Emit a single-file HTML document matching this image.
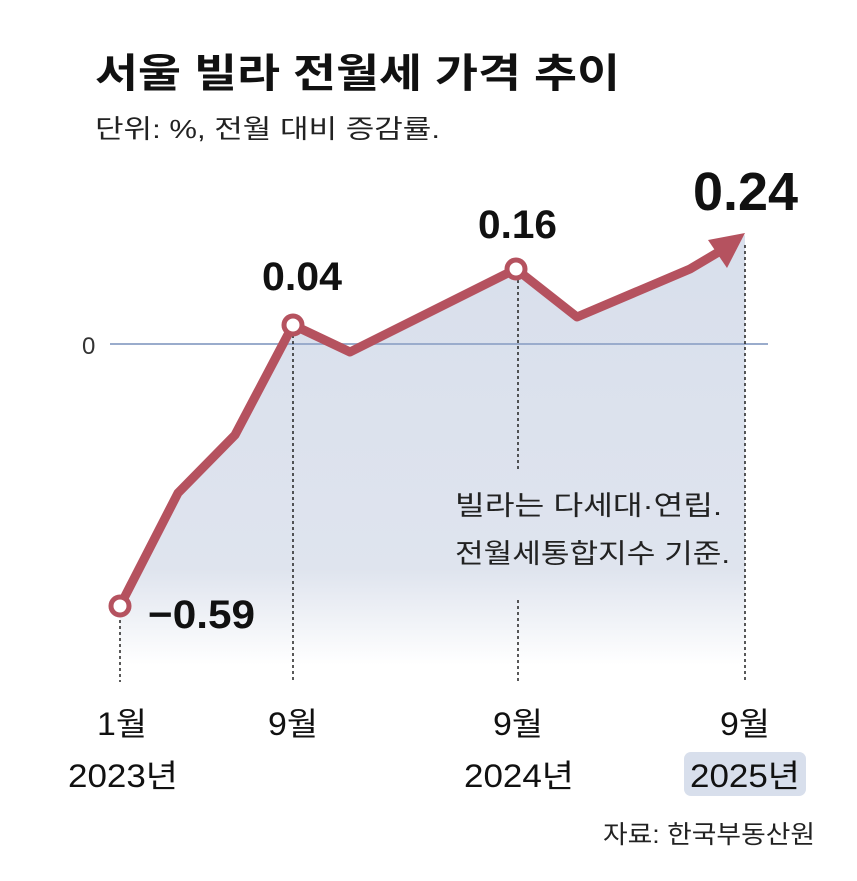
<!DOCTYPE html>
<html><head><meta charset="utf-8"><style>
html,body{margin:0;padding:0;background:#fff;}
svg{display:block;font-family:"Liberation Sans","Noto Sans CJK KR",sans-serif;}
</style></head><body>
<svg width="857" height="881" viewBox="0 0 857 881" xmlns="http://www.w3.org/2000/svg">
<defs>
<linearGradient id="fillg" gradientUnits="userSpaceOnUse" x1="0" y1="230" x2="0" y2="665">
<stop offset="0" stop-color="#d8dfec"/>
<stop offset="0.78" stop-color="#dfe4ee"/>
<stop offset="1" stop-color="#ffffff"/>
</linearGradient>
</defs>
<text x="95" y="87" font-size="40" font-weight="bold" fill="#111" textLength="525" lengthAdjust="spacingAndGlyphs">서울 빌라 전월세 가격 추이</text>
<text x="95" y="138" font-size="26" fill="#222" textLength="345" lengthAdjust="spacingAndGlyphs">단위: %, 전월 대비 증감률.</text>

<polygon points="120,606 178,493 235,435 293,325 350,352 516,269 577,317 690,269 745,235 745,665 120,665" fill="url(#fillg)"/>
<line x1="110" y1="344" x2="768" y2="344" stroke="#9aaccc" stroke-width="2"/>
<text x="82" y="354" font-size="24" fill="#333">0</text>

<g stroke="#222" stroke-width="1.5" stroke-dasharray="3,3">
<line x1="120" y1="620" x2="120" y2="682"/>
<line x1="293" y1="335" x2="293" y2="682"/>
<line x1="518" y1="280" x2="518" y2="472"/>
<line x1="518" y1="600" x2="518" y2="682"/>
<line x1="745" y1="245" x2="745" y2="682"/>
</g>

<polyline points="120,606 178,493 235,435 293,325 350,352 516,269 577,317 690,269 722,250" fill="none" stroke="#b5525f" stroke-width="9" stroke-linejoin="round" stroke-linecap="round"/>
<polygon points="745,233 708,240 727,268" fill="#b5525f"/>
<g fill="#fff" stroke="#b5525f" stroke-width="5">
<circle cx="120" cy="606" r="9"/>
<circle cx="293" cy="325" r="9"/>
<circle cx="516" cy="269" r="9"/>
</g>

<g font-weight="bold" fill="#111" lengthAdjust="spacingAndGlyphs">
<text x="148" y="628" font-size="40" textLength="107" lengthAdjust="spacingAndGlyphs">−0.59</text>
<text x="262" y="290" font-size="40" textLength="80" lengthAdjust="spacingAndGlyphs">0.04</text>
<text x="478" y="238" font-size="40" textLength="79" lengthAdjust="spacingAndGlyphs">0.16</text>
<text x="693" y="210" font-size="54" textLength="105" lengthAdjust="spacingAndGlyphs">0.24</text>
</g>

<text x="455" y="515" font-size="27" fill="#222" textLength="267" lengthAdjust="spacingAndGlyphs">빌라는 다세대·연립.</text>
<text x="455" y="563" font-size="27" fill="#222" textLength="275" lengthAdjust="spacingAndGlyphs">전월세통합지수 기준.</text>

<rect x="684" y="752" width="122" height="44" rx="7" fill="#d8dfec"/>
<g font-size="32" fill="#111">
<text x="97" y="735" textLength="50" lengthAdjust="spacingAndGlyphs">1월</text>
<text x="68" y="787" textLength="110" lengthAdjust="spacingAndGlyphs">2023년</text>
<text x="268" y="735" textLength="50" lengthAdjust="spacingAndGlyphs">9월</text>
<text x="493" y="735" textLength="50" lengthAdjust="spacingAndGlyphs">9월</text>
<text x="464" y="787" textLength="110" lengthAdjust="spacingAndGlyphs">2024년</text>
<text x="720" y="735" textLength="50" lengthAdjust="spacingAndGlyphs">9월</text>
<text x="690" y="787" textLength="110" lengthAdjust="spacingAndGlyphs">2025년</text>
</g>
<text x="603" y="843" font-size="25" fill="#222" textLength="212" lengthAdjust="spacingAndGlyphs">자료: 한국부동산원</text>
</svg>
</body></html>
